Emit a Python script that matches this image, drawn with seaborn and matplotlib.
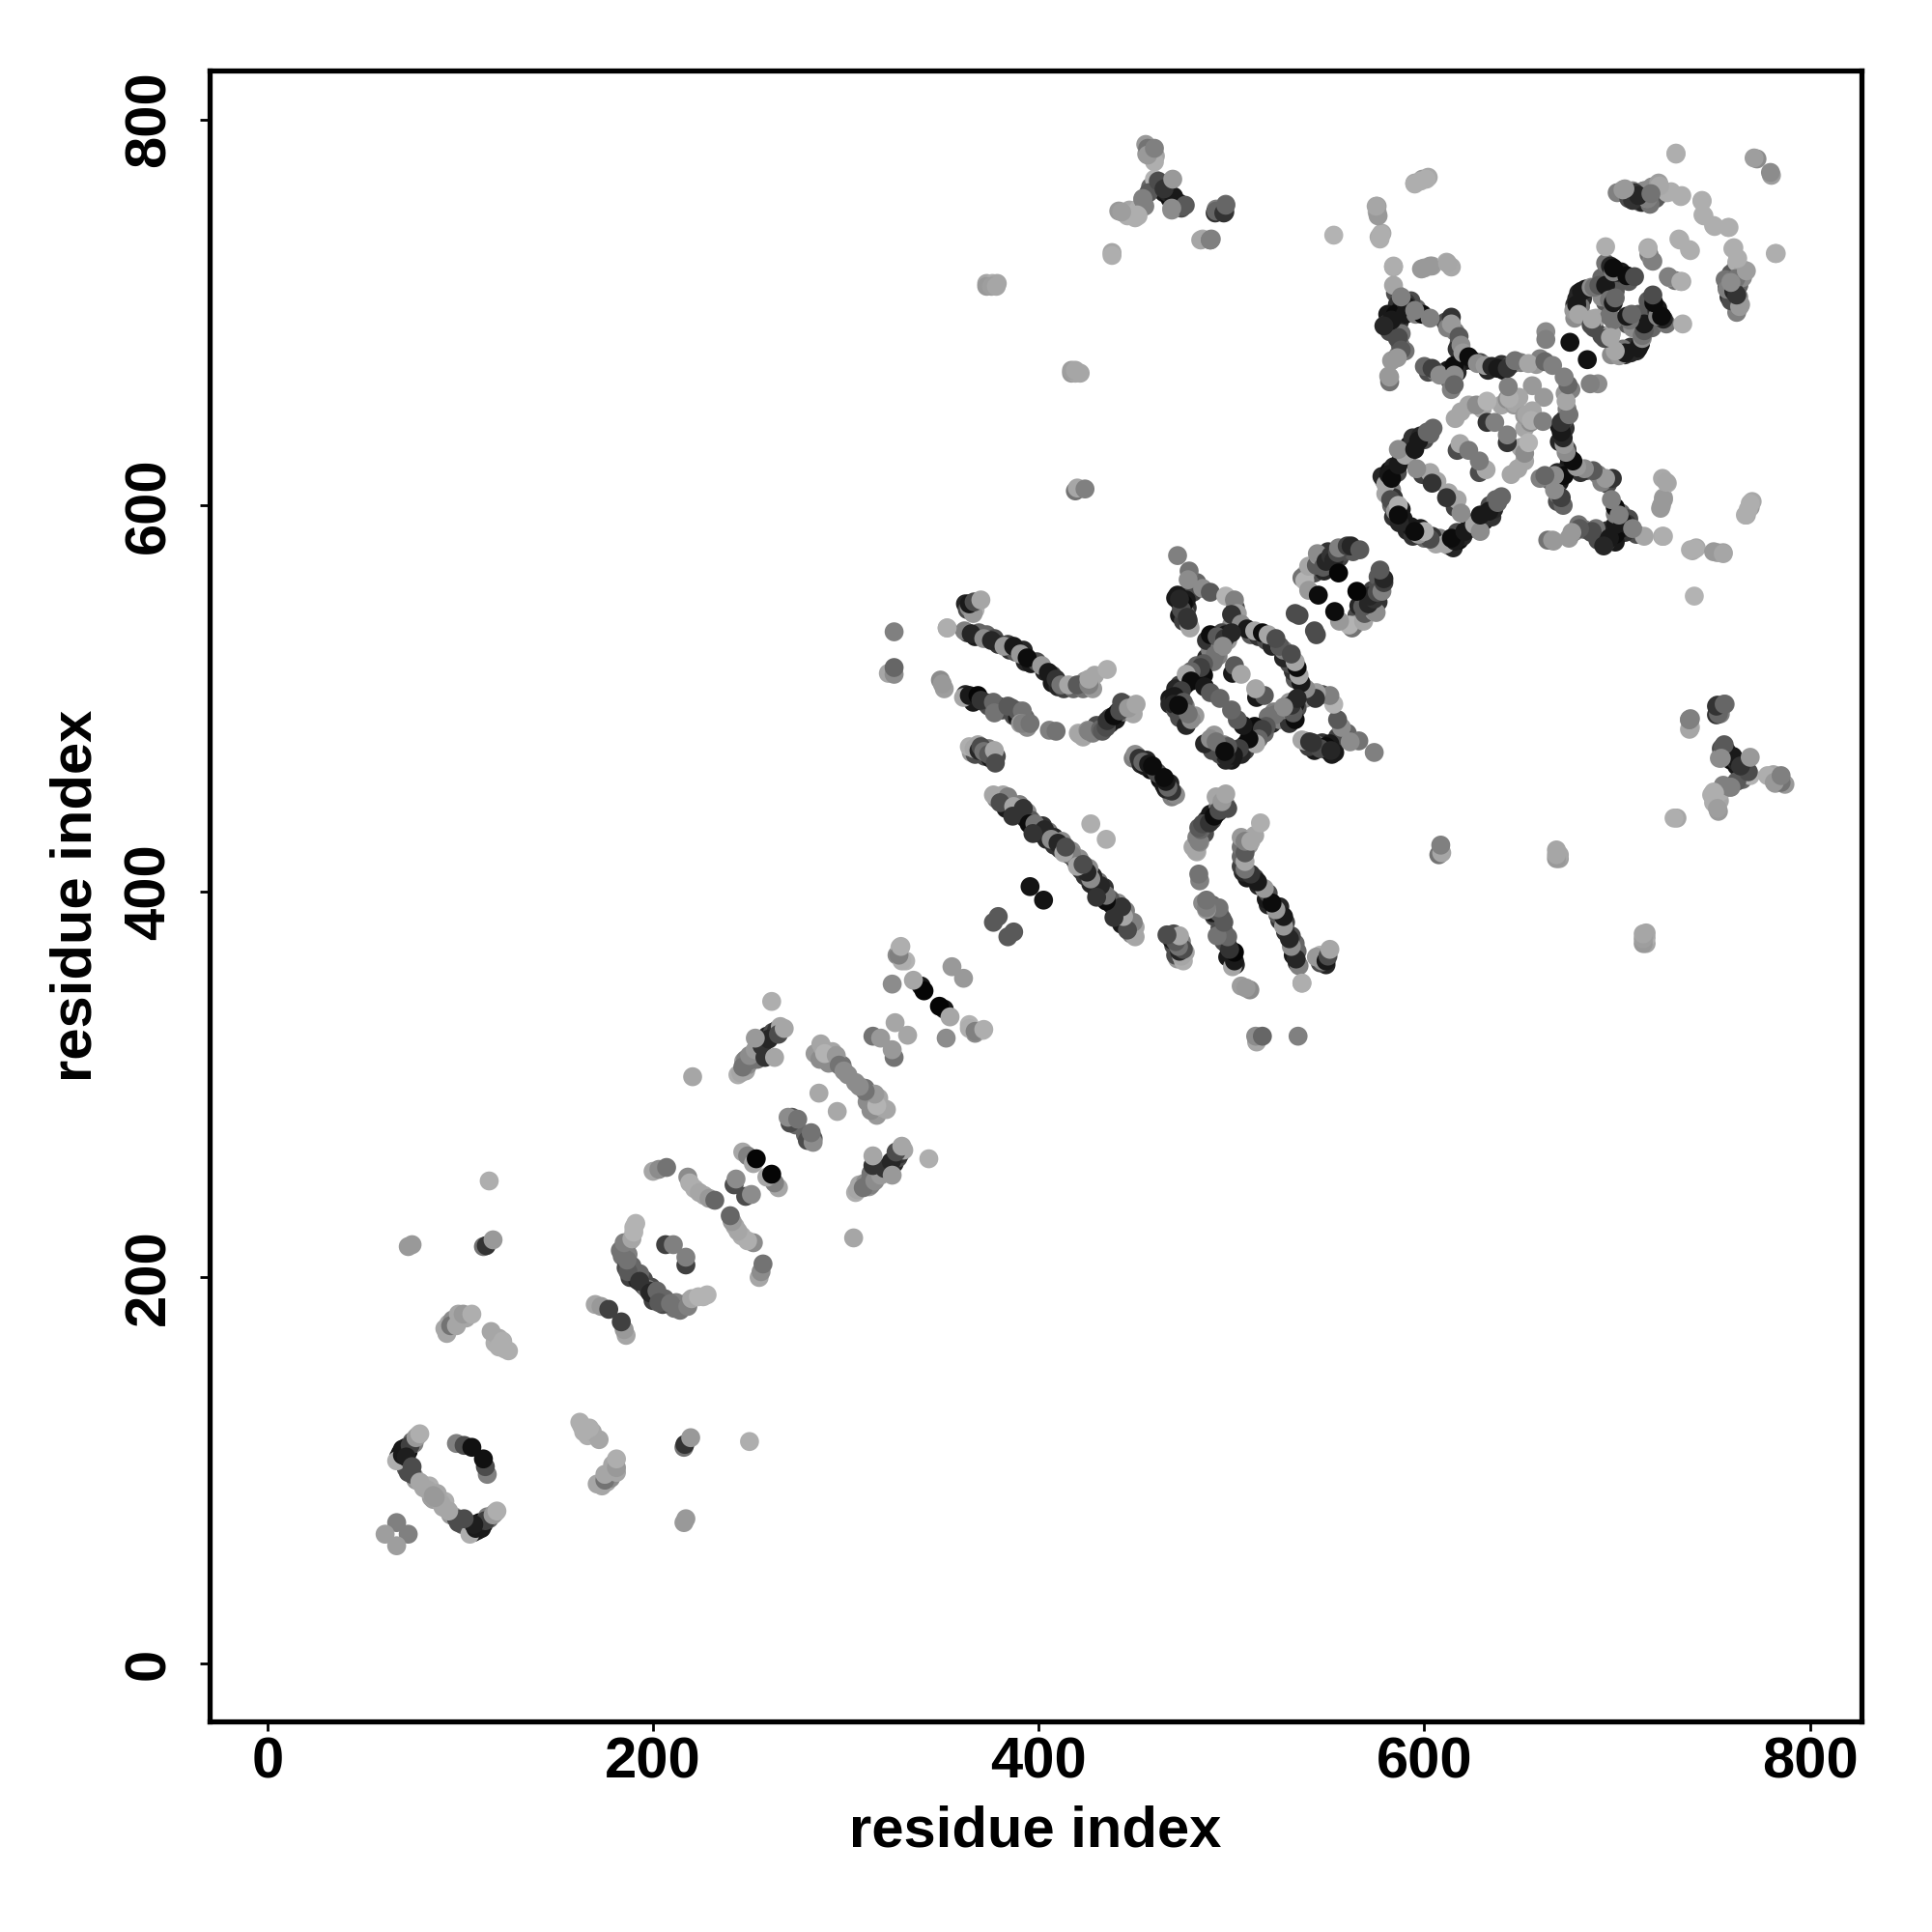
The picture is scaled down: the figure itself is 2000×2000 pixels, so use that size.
import numpy as np
import pandas as pd
import matplotlib
matplotlib.use("Agg")
import matplotlib.pyplot as plt
import seaborn as sns

# contacts are listed once (i < j), the map is symmetric so they get mirrored below
ring1_i = [67, 70, 71, 74, 77, 79, 72, 75, 75, 79, 83, 86, 98, 102, 106, 67, 61]
ring1_j = [105, 108, 110, 113, 117, 119, 107, 102, 98, 94, 90, 87, 114, 113, 112, 73, 67]
ring1_g = [.68, .1, .1, .25, .6, .68, .12, .3, .3, .65, .65, .6, .5, .3, .07, .5, .62]

low_i = [93, 92, 95, 98, 99, 101.5, 106, 120, 116, 120, 122, 125, 112, 113.5, 117, 73, 75, 115]
low_j = [171, 173.5, 175, 175, 181, 181, 181, 168.5, 172, 164, 167, 162, 216, 216.5, 219.5, 216, 217, 250]
low_g = [.65, .65, .45, .65, .65, .6, .68, .65, .65, .68, .68, .68, .45, .2, .6, .6, .6, .68]

ring2_i = [170, 173, 177, 198, 192, 193, 187, 186.5, 183, 185, 189, 190, 191, 206.5, 210.5, 200, 203, 207]
ring2_j = [186, 185, 183.5, 193, 198.5, 202, 203, 209, 214, 218, 220, 223.5, 228, 217, 217, 255, 256, 257]
ring2_g = [.65, .6, .25, .2, .15, .4, .35, .45, .45, .5, .65, .7, .7, .25, .5, .65, .55, .45]

band2_i = [218, 219, 221.5, 224, 226.5, 229, 232, 242, 243, 246.5, 249, 252, 253.5]
band2_j = [252, 249, 246, 244, 242.5, 241, 240, 248, 251, 265, 263, 259, 261.5]
band2_g = [.55, .68, .68, .65, .65, .6, .4, .3, .55, .65, .5, .65, .02]

band3_i = [245.5, 246.5, 250, 250, 253, 258, 256.5, 260, 253, 263, 265, 268, 261.5, 220.5]
band3_j = [306, 309, 312.5, 315, 318, 314, 320, 323.5, 324, 314, 326, 329, 343, 304]
band3_g = [.65, .45, .45, .55, .6, .2, .2, .15, .6, .65, .3, .65, .68, .65]

mid3_i = [271, 270, 275, 286, 286.5, 288, 289, 295, 296.5, 299]
mid3_j = [280, 283, 282, 295.5, 313, 319, 316, 315, 310, 307]
mid3_g = [.3, .55, .45, .66, .55, .65, .7, .6, .45, .55]

mid4_i = [314, 318, 325.5, 324, 326.5, 328, 331, 329, 327.5, 328.5, 339, 340.5, 335, 355]
mid4_j = [325, 324, 332, 352, 367, 371, 364, 364, 367, 371.5, 351, 348.5, 354, 361]
mid4_g = [.45, .6, .65, .55, .55, .7, .7, .68, .5, .68, .1, .02, .65, .6]

pairs4_i = [395.5, 379, 376.5, 427, 322, 325, 325, 325, 352.5, 349, 351, 350, 438, 373, 376, 378.5]
pairs4_j = [402.5, 387, 384, 435, 513, 512.5, 516, 534.5, 536.5, 509.5, 505, 507.5, 731, 715, 715, 715]
pairs4_g = [.08, .35, .35, .68, .65, .55, .4, .5, .68, .55, .62, .6, .65, .65, .68, .65]

xband_i = [376.5, 381.5, 384, 380, 387, 392, 386.5, 395, 398, 403, 397, 406.5, 410, 413, 414]
xband_j = [450, 450, 449, 446, 444, 443, 439, 435, 435, 432, 430, 427, 425, 420, 423]
xband_g = [.65, .65, .5, .3, .65, .2, .2, .05, .45, .15, .2, .55, .15, .65, .3]

band_a_i = [366, 364, 366.5, 370, 361.5, 365, 371.5, 375.5, 382, 387, 390.5, 394, 401.5, 405, 409, 411.5, 415.5, 420, 426, 426, 435.5]
band_a_j = [544, 549, 550, 551, 535, 533.5, 531, 530, 527, 527, 523, 521, 517, 513.5, 510, 507, 507, 507, 507, 510, 515]
band_a_g = [.6, .1, .3, .65, .5, .15, .55, .15, .6, .1, .6, .05, .6, .1, .2, .45, .65, .35, .5, .65, .68]

band_b_i = [361, 364, 368.5, 370, 376.5, 377, 384, 389, 391.5, 390.5, 391.5, 395.5, 405.5, 409]
band_b_j = [500.5, 501.5, 501.5, 499, 498, 492.5, 496, 493.5, 493.5, 487, 487, 487, 483.5, 483]
band_b_g = [.65, .1, .02, .2, .4, .45, .35, .35, .45, .6, .5, .45, .5, .45]

band_c_i = [420.5, 421, 425.5, 426, 432, 433, 435, 435.5, 439, 442, 443, 446.5, 450.5]
band_c_j = [482, 481.5, 483.5, 483, 484, 483, 485, 488.5, 491, 493.5, 498, 495, 497]
band_c_g = [.68, .65, .55, .5, .4, .35, .3, .2, .05, .3, .3, .6, .65]

band_d_i = [364, 366.5, 368.5, 369, 370, 371.5, 374, 377, 377.5, 352.5]
band_d_j = [475, 474, 476, 473, 475, 472.5, 471, 473, 466.5, 536.5]
band_d_g = [.68, .65, .65, .15, .3, .45, .35, .65, .3, .68]

band_e_i = [450, 452, 454, 457, 459]
band_e_j = [471, 469, 467, 466, 465]
band_e_g = [.55, .2, .4, .1, .05]

ring3_i = [472, 478, 479, 485, 489, 472, 476.5, 475, 474, 477, 478, 477.5, 478.5, 477.5, 473, 497, 501.5, 503, 500, 505, 508, 512, 516, 519, 523]
ring3_j = [574, 566, 558.5, 557, 555, 553.5, 551, 549, 546, 542, 538, 561.5, 536.5, 540.5, 551.5, 553, 551, 544, 543.5, 538.5, 536, 535, 534, 533, 531]
ring3_g = [.5, .45, .3, .55, .35, .1, .1, .05, .3, .2, .65, .55, .65, .2, .15, .7, .5, .62, .2, .55, .1, .65, .05, .65, .3]

ring3b_i = [489, 492.5, 496.5, 500, 491.5, 495.5, 490.5, 485.5, 485.5, 484, 479, 476.5, 479, 474, 470.5, 470, 475, 473, 476.5, 479, 477.5, 472.5]
ring3b_j = [533, 532, 531, 534, 522.5, 527, 519, 518, 512, 516, 514, 512.5, 509, 504, 501, 497, 498, 490, 486, 489, 492, 496.5]
ring3b_g = [.05, .35, .2, .15, .45, .55, .45, .35, .05, .25, .4, .65, .05, .25, .1, .15, .35, .3, .15, .55, .45, .05]

ring3c_i = [486, 489, 494, 500.5, 501.5, 505]
ring3c_j = [506, 503, 500, 513, 517, 512.5]
ring3c_g = [.1, .35, .4, .1, .35, .65]

ring4_i = [536.5, 538, 540, 540, 544, 545, 544.5, 547.5, 549, 551.5, 553, 555, 555.5, 560, 562, 566.5, 545, 555.5, 535]
ring4_j = [562.5, 561, 568.5, 556, 569, 574, 575, 568, 571, 574, 571.5, 575.5, 578, 579, 579, 577, 553.5, 565, 543]
ring4_g = [.45, .7, .65, .6, .35, .6, .55, .35, .15, .2, .15, .3, .5, .25, .15, .35, .05, .02, .3]

ring5_i = [580, 581.5, 583, 586.5, 590, 586.5, 582.5, 585, 586.5, 586.5, 595, 597, 601.5, 604.5, 599, 603, 606.5, 604, 596, 617, 618.5, 623]
ring5_j = [611, 616, 614, 621, 626, 629, 603, 597, 600, 595, 629, 633.5, 638, 640, 616, 617, 612.5, 611.5, 619, 628.5, 632, 628.5]
ring5_g = [.65, .1, .05, .1, .65, .55, .3, .6, .68, .05, .1, .1, .4, .4, .25, .65, .65, .2, .55, .3, .66, .48]

blob_i = [619, 623, 627, 632.5, 632.5, 636.5, 643, 646.5, 649, 647, 644, 643.5]
blob_j = [648.5, 652, 652, 654, 643, 643, 655, 652, 656, 653, 655.5, 661.5]
blob_g = [.65, .65, .55, .7, .2, .5, .55, .6, .65, .65, .68, .5]

top_band_i = [600, 604, 608, 615.5, 615.5, 615.5, 614, 614, 618, 619, 620, 623, 627.5, 631.5, 635, 638, 643, 647, 654, 662.5, 666.5]
top_band_j = [672, 671, 667.5, 672.5, 667.5, 662.5, 697.5, 694, 687.5, 683, 679, 677, 673.5, 672.5, 672, 671, 671, 675, 673.5, 674.5, 672.5]
top_band_g = [.4, .25, .55, .05, .55, .4, .2, .6, .35, .55, .6, .05, .55, .6, .15, .1, .2, .45, .65, .4, .5]

col6_i = [581.5, 582, 586.5, 587.5, 586.5, 580.5, 583, 586, 588, 590.5, 595.5, 599, 603, 584, 584, 591, 595, 586, 579, 582]
col6_j = [667, 664, 678, 683, 687, 694, 696, 686.5, 680.5, 705, 699, 699, 697, 714, 723.5, 703, 701, 676.5, 693, 666.5]
col6_g = [.6, .45, .5, .45, .3, .2, .1, .3, .35, .2, .5, .05, .5, .65, .66, .1, .5, .6, .15, .6]

far6_i = [576.5, 578, 575.5, 575.5, 595, 599, 602, 600, 604, 611.5, 614, 598.5, 603, 612, 577, 577.5, 576, 575, 553, 595, 598, 601, 588, 584]
far6_j = [739, 741, 752, 755, 767, 769, 770, 723, 724, 726, 723.5, 722.5, 724, 725.5, 738, 740.5, 750, 755, 740, 766.5, 768, 769, 708, 724]
far6_g = [.66, .66, .65, .62, .65, .6, .66, .62, .62, .68, .66, .6, .6, .65, .68, .68, .6, .65, .7, .68, .68, .68, .5, .68]

ring6_i = [677.5, 679, 679, 680, 681.5, 683.5, 686.5, 686.5, 688, 687, 690.5, 694, 694, 694, 696, 696.5, 698, 698, 698, 699, 705, 709, 716, 716.5, 718, 663, 663, 675.5]
ring6_j = [701, 707, 704, 699, 711, 712, 713, 693.5, 713, 696.5, 714, 714, 725.5, 734, 706.5, 724, 721, 723, 705, 707.5, 719, 718.5, 733.5, 730, 727, 690, 686, 684.5]
ring6_g = [.6, .15, .1, .65, .1, .1, .55, .3, .45, .65, .35, .1, .45, .68, .45, .15, .5, .05, .1, .4, .05, .3, .65, .45, .55, .55, .5, .07]

arm6_i = [703, 709, 715.5, 721.5, 728, 733, 732.5, 744, 745, 750.5, 758, 760.5, 762, 765.5, 759, 760.5, 764, 761.5, 726.5, 782]
arm6_j = [763.5, 762, 759, 767, 762.5, 760, 737.5, 757.5, 750, 744.5, 744, 733.5, 726, 722, 716, 711, 704, 717.5, 718.5, 730.5]
arm6_g = [.6, .2, .55, .62, .68, .68, .68, .68, .68, .68, .68, .68, .68, .66, .5, .15, .6, .45, .5, .68]

corner_i = [730.5, 772.5, 780, 733, 738]
corner_j = [782.5, 779.5, 771, 716, 732]
corner_g = [.68, .55, .62, .68, .68]

upper_i = [455.5, 456.5, 460.5, 460, 457, 454, 462, 466, 469, 470, 475, 451.5, 445, 441.5, 438, 485, 489.5, 492, 497, 496.5]
upper_j = [787, 785, 781, 769, 762, 758.5, 768, 764, 753, 760, 755, 750, 751, 752.5, 729.5, 738, 738, 753.5, 756, 752]
upper_g = [.6, .45, .65, .7, .35, .5, .3, .2, .55, .1, .35, .68, .68, .6, .68, .68, .5, .5, .45, .2]

remote_i = [373, 375.5, 378, 417, 419, 421.5, 419, 420, 424, 670, 670]
remote_j = [713.5, 713.5, 713.5, 668.5, 668.5, 668.5, 607.5, 609, 608.5, 417, 419]
remote_g = [.6, .62, .65, .6, .65, .65, .45, .65, .5, .62, .65]

tail_i = [484, 489, 491.5, 492, 473, 476, 469, 454, 451, 446, 443, 460, 456.5, 460, 465, 469.5, 496, 497, 489]
tail_j = [737.5, 737.5, 751.5, 752.5, 756.5, 755.5, 754, 759, 750.5, 750, 752, 778, 781.5, 785, 764, 769, 751.5, 755.5, 737.5]
tail_g = [.65, .5, .2, .4, .1, .35, .55, .5, .68, .68, .62, .68, .6, .5, .2, .6, .2, .4, .5]

# second pass, the bands in the reference are thicker than one row of dots
fill1_i = [69, 70, 72, 73, 68, 75, 76, 78, 72, 73, 76, 77, 80, 81, 84, 85, 88, 94, 96, 100, 103, 118, 123]
fill1_j = [109, 111, 112, 110, 107, 115, 114, 118, 101, 99, 97, 95, 93, 91, 92, 86, 88, 176, 178, 180, 179, 166, 163]
fill1_g = [.08, .1, .1, .05, .1, .4, .5, .65, .35, .3, .62, .6, .65, .65, .68, .62, .65, .65, .55, .6, .65, .68, .68]

fill2_i = [186, 188, 187, 190, 184, 191, 195, 196, 189, 186, 188, 194]
fill2_j = [216, 219, 212, 226, 211, 201, 199, 195, 206, 205, 200, 197]
fill2_g = [.55, .65, .5, .7, .45, .45, .3, .3, .4, .3, .25, .5]

fill3_i = [252, 255, 257, 259, 262, 264, 266, 248, 249, 251, 254, 247, 244, 248, 294, 292, 291, 284, 287, 293, 298, 301, 272, 274]
fill3_j = [316, 319, 322, 325, 327, 328, 330, 307, 310, 313, 313, 312, 305, 313, 312, 314, 311, 316, 321, 317, 310, 305, 283, 279]
fill3_g = [.5, .4, .25, .15, .3, .2, .65, .65, .55, .6, .45, .6, .68, .5, .55, .5, .55, .6, .65, .65, .45, .55, .35, .4]

fill_x_i = [378, 382, 385, 383, 388, 390, 391, 393, 394, 396, 399, 401, 402, 405, 404, 408, 408, 411, 412, 416, 417, 419]
fill_x_j = [448, 447, 446, 443, 441, 445, 440, 438, 441, 437, 433, 430, 434, 431, 427, 428, 424, 422, 426, 419, 421, 417]
fill_x_g = [.5, .45, .35, .1, .1, .5, .3, .1, .55, .35, .15, .1, .2, .45, .15, .15, .2, .2, .55, .2, .55, .5]

fill_a_i = [362, 363, 364, 367, 363, 367, 369, 373, 377, 379, 384, 385, 388, 392, 393, 396, 399, 403, 407, 407, 410, 413, 418, 423, 424, 428, 429]
fill_a_j = [549, 546, 547, 546, 534, 532, 534, 533, 531, 528, 528, 525, 524, 525, 519, 518, 519, 514, 512, 508, 506, 505, 505, 505, 509, 505, 512]
fill_a_g = [.15, .3, .55, .7, .2, .1, .4, .4, .3, .2, .25, .2, .35, .15, .15, .1, .3, .15, .25, .1, .15, .25, .4, .45, .6, .6, .65]

fill_b_i = [362, 366, 372, 374, 379, 381, 386, 387, 393, 394, 389, 423, 428, 430, 433, 437, 437, 440, 441, 444, 445, 448, 449]
fill_b_j = [502, 498, 498, 496, 496, 494, 495, 491, 490, 485, 490, 480, 482, 486, 486, 487, 490, 489, 493, 493, 497, 494, 492]
fill_b_g = [.15, .1, .15, .3, .2, .3, .35, .3, .4, .55, .1, .65, .5, .3, .3, .15, .3, .1, .2, .45, .6, .65, .65]

fill_d_i = [365, 367, 372, 375, 378, 374, 449, 451, 453, 456, 458, 455, 461]
fill_d_j = [472, 471, 470, 469, 470, 474, 469, 470, 466, 468, 463, 465, 462]
fill_d_g = [.6, .3, .3, .1, .3, .5, .5, .3, .15, .15, .05, .1, .3]

fill_r3_i = [473, 471, 474, 477, 473, 476, 475, 480, 482, 503, 502, 500, 510, 514, 518, 521, 525, 527]
fill_r3_j = [550, 552, 553, 547, 543, 544, 540, 555, 560, 541, 547, 538, 533, 532, 530, 527, 527, 525]
fill_r3_g = [.15, .1, .3, .2, .1, .4, .25, .25, .4, .3, .3, .55, .35, .2, .3, .15, .5, .35]

fill_r3b_i = [487, 489, 482, 482, 478, 476, 473, 471, 468, 468, 472, 474, 476, 471, 481, 491, 495, 487, 494, 498, 493, 497]
fill_r3b_j = [521, 525, 517, 513, 510, 507, 507, 505, 500, 497, 499, 493, 496, 494, 491, 530, 534, 530, 526, 530, 522, 533]
fill_r3b_g = [.15, .5, .4, .3, .2, .1, .25, .15, .1, .15, .2, .15, .5, .3, .6, .15, .3, .2, .5, .6, .5, .1]

# keeps off the holes inside the ring at 550
fill_r4_i = [541, 543, 546, 548, 550, 552, 556, 558, 563, 538, 533, 550, 545, 553]
fill_r4_j = [566, 565, 569, 566, 570, 572, 573, 576, 576, 564, 544, 576, 571, 574]
fill_r4_g = [.4, .3, .2, .15, .1, .3, .25, .3, .35, .65, .3, .2, .6, .25]

fill_r5_i = [579, 581, 578, 582, 584, 586, 588, 592, 592, 594, 598, 600, 603, 583, 580, 583, 584, 584, 588, 589, 591]
fill_r5_j = [613, 609, 615, 618, 620, 617, 624, 627, 631, 635, 636, 634, 637, 608, 606, 600, 604, 594, 598, 593, 587]
fill_r5_g = [.6, .55, .15, .05, .15, .3, .25, .4, .1, .2, .15, .3, .4, .5, .65, .4, .2, .2, .1, .1, .15]

fill_blob_i = [640, 656, 630, 616]
fill_blob_j = [652, 662, 650, 645]
fill_blob_g = [.65, .6, .65, .65]

fill_top_i = [611, 612, 616, 618, 617, 621, 625, 629, 633, 640, 641, 645, 650, 658, 660, 612, 613, 617, 602, 606, 614]
fill_top_j = [695, 692, 690, 684, 681, 675, 675, 674, 670, 673, 670, 673, 674, 673, 676, 670, 665, 669, 669, 669, 660]
fill_top_g = [.3, .5, .5, .35, .2, .1, .1, .3, .15, .2, .1, .3, .5, .6, .5, .1, .4, .15, .3, .45, .5]

fill_c6_i = [585, 586, 588, 581, 584, 585, 587, 592, 590, 582, 587, 588, 596, 590, 583, 593]
fill_c6_j = [710, 704, 702, 699, 692, 699, 695, 701, 699, 690, 690, 689, 702, 680, 675, 706]
fill_c6_g = [.3, .2, .1, .1, .15, .05, .2, .1, .1, .3, .15, .45, .4, .45, .6, .3]

fill_r6_i = [678, 680, 682, 684, 678, 681, 693, 696, 700, 702, 706, 694, 692, 697, 699, 695, 692, 688, 689, 696]
fill_r6_j = [704, 710, 707, 712, 697, 703, 716, 718, 718, 721, 716, 705, 708, 712, 711, 722, 718, 692, 697, 698]
fill_r6_g = [.2, .15, .2, .2, .55, .45, .3, .2, .2, .1, .35, .35, .55, .1, .35, .35, .4, .3, .65, .45]

fill_arm_i = [700, 706, 712, 711, 714, 718, 761, 763, 757, 759, 756, 763, 758, 763]
fill_arm_j = [762, 759, 757, 761, 763, 765, 722, 720, 713, 720, 717, 714, 708, 708]
fill_arm_g = [.5, .3, .5, .35, .4, .55, .5, .5, .15, .35, .45, .55, .2, .55]

fill_up_i = [458, 463, 465, 468, 471, 473, 474, 467, 461, 456, 457, 458, 450, 447, 452, 455]
fill_up_j = [765, 765, 762, 759, 757, 755, 754, 762, 766, 782, 783, 784, 749, 753, 754, 755]
fill_up_g = [.4, .1, .1, .05, .1, .15, .3, .15, .3, .6, .4, .5, .68, .65, .68, .5]

tick_values = [0, 200, 400, 600, 800]
axis_label = "residue index"

groups = [
    (fill1_i, fill1_j, fill1_g), (fill2_i, fill2_j, fill2_g), (fill3_i, fill3_j, fill3_g),
    (fill_x_i, fill_x_j, fill_x_g), (fill_a_i, fill_a_j, fill_a_g), (fill_b_i, fill_b_j, fill_b_g),
    (fill_d_i, fill_d_j, fill_d_g), (fill_r3_i, fill_r3_j, fill_r3_g), (fill_r3b_i, fill_r3b_j, fill_r3b_g),
    (fill_r4_i, fill_r4_j, fill_r4_g), (fill_r5_i, fill_r5_j, fill_r5_g), (fill_blob_i, fill_blob_j, fill_blob_g),
    (fill_top_i, fill_top_j, fill_top_g), (fill_c6_i, fill_c6_j, fill_c6_g), (fill_r6_i, fill_r6_j, fill_r6_g),
    (fill_arm_i, fill_arm_j, fill_arm_g), (fill_up_i, fill_up_j, fill_up_g),
    (ring1_i, ring1_j, ring1_g), (low_i, low_j, low_g), (ring2_i, ring2_j, ring2_g),
    (band2_i, band2_j, band2_g), (band3_i, band3_j, band3_g), (mid3_i, mid3_j, mid3_g),
    (mid4_i, mid4_j, mid4_g), (pairs4_i, pairs4_j, pairs4_g), (xband_i, xband_j, xband_g),
    (band_a_i, band_a_j, band_a_g), (band_b_i, band_b_j, band_b_g), (band_c_i, band_c_j, band_c_g),
    (band_d_i, band_d_j, band_d_g), (band_e_i, band_e_j, band_e_g), (ring3_i, ring3_j, ring3_g),
    (ring3b_i, ring3b_j, ring3b_g), (ring3c_i, ring3c_j, ring3c_g), (ring4_i, ring4_j, ring4_g),
    (ring5_i, ring5_j, ring5_g), (blob_i, blob_j, blob_g), (top_band_i, top_band_j, top_band_g),
    (col6_i, col6_j, col6_g), (far6_i, far6_j, far6_g), (ring6_i, ring6_j, ring6_g),
    (arm6_i, arm6_j, arm6_g), (corner_i, corner_j, corner_g), (upper_i, upper_j, upper_g),
    (remote_i, remote_j, remote_g), (tail_i, tail_j, tail_g),
]


def main():
    frames = []
    for n, (a, b, g) in enumerate(groups):
        assert len(a) == len(b) == len(g), n
        frames.append(pd.DataFrame({"x": a, "y": b, "shade": g}))
        frames.append(pd.DataFrame({"x": b, "y": a, "shade": g}))
    df = pd.concat(frames, ignore_index=True)

    sns.set_style("ticks")
    plt.rcParams["font.family"] = ["Liberation Sans", "DejaVu Sans"]

    fig = plt.figure(figsize=(10, 10), dpi=200)
    ax = fig.add_axes([217 / 2000, 1 - 1782 / 2000, 1710 / 2000, 1709 / 2000])
    sns.scatterplot(data=df, x="x", y="y", hue="shade", palette="gray", hue_norm=(0, 1),
                    s=50, linewidth=0, legend=False, ax=ax)

    ax.set_xlim(-30, 826.7)
    ax.set_ylim(-30, 825.3)
    ax.set_xticks(tick_values)
    ax.set_yticks(tick_values)
    ax.tick_params(length=3.5, width=1.0, labelsize=21.5, color="black", labelcolor="black")
    ax.tick_params(axis="x", pad=2)
    ax.tick_params(axis="y", pad=9)
    for lab in ax.get_xticklabels() + ax.get_yticklabels():
        lab.set_fontweight("bold")
    for lab in ax.get_yticklabels():
        lab.set_rotation(90)
        lab.set_va("center")
    for s in ax.spines.values():
        s.set_linewidth(1.9)
        s.set_color("black")

    ax.set_xlabel(axis_label, fontsize=21.5, fontweight="bold", labelpad=6, color="black")
    ax.set_ylabel(axis_label, fontsize=21.5, fontweight="bold", labelpad=7.6, color="black")
    fig.savefig("out.png", dpi=200, facecolor="white")


if __name__ == "__main__":
    main()
